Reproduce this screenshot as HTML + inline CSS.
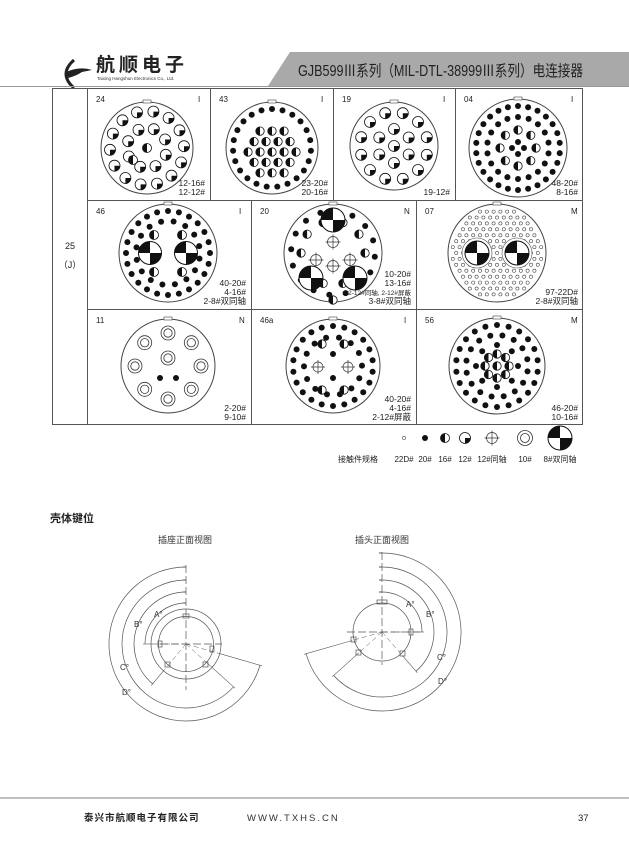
<!DOCTYPE html>
<html><head><meta charset="utf-8">
<style>
*{margin:0;padding:0}
body{width:629px;height:859px;background:#fff;overflow:hidden;position:relative;font-family:"Liberation Sans","Noto Sans CJK SC",sans-serif}
svg{position:absolute;left:0;top:0}
</style></head><body>
<svg id="s" width="629" height="859" viewBox="0 0 629 859" xmlns="http://www.w3.org/2000/svg" font-family="Liberation Sans, Noto Sans CJK SC, sans-serif">
<g>
<path d="M74 60 q-16 14 0 28" fill="none" stroke="#222" stroke-width="3"/>
<path d="M66 72 q14 -6 26 -2 l-10 2 q-6 4 -14 6 z" fill="#222"/>
<text x="96" y="71" font-size="19" font-weight="bold" fill="#222" letter-spacing="4">航顺电子</text>
<text x="97" y="80" font-size="4.5" fill="#333">Taixing Hangshun Electronics Co., Ltd.</text>
<path d="M290 52 L629 52 L629 86 L268 86 Z" fill="#a9a9a9"/>
<line x1="0" y1="86.5" x2="629" y2="86.5" stroke="#999" stroke-width="1"/>
<text x="298" y="76" font-size="15.5" fill="#222" textLength="285" lengthAdjust="spacingAndGlyphs">GJB599Ⅲ系列（MIL-DTL-38999Ⅲ系列）电连接器</text>
</g>
<g stroke="#555" stroke-width="1" fill="none">
<rect x="52.5" y="88.5" width="530" height="336"/>
<line x1="87.5" y1="88" x2="87.5" y2="425"/>
<line x1="87" y1="200.5" x2="583" y2="200.5"/>
<line x1="87" y1="309.5" x2="583" y2="309.5"/>
<line x1="210.5" y1="88" x2="210.5" y2="200"/>
<line x1="333.5" y1="88" x2="333.5" y2="200"/>
<line x1="455.5" y1="88" x2="455.5" y2="200"/>
<line x1="251.5" y1="200" x2="251.5" y2="425"/>
<line x1="416.5" y1="200" x2="416.5" y2="425"/>
</g>
<text x="70" y="249" font-size="9" text-anchor="middle" fill="#222">25</text>
<text x="70" y="268" font-size="9" text-anchor="middle" fill="#222">（J）</text>
<g id="conn"></g>
<g id="leg"></g>
<g font-size="8" fill="#222" text-anchor="middle">
<text x="358" y="462">接触件规格</text>
<text x="404" y="462">22D#</text>
<text x="425" y="462">20#</text>
<text x="445" y="462">16#</text>
<text x="465" y="462">12#</text>
<text x="492" y="462">12#同轴</text>
<text x="525" y="462">10#</text>
<text x="560" y="462">8#双同轴</text>
</g>
<text x="50" y="522" font-size="11" font-weight="bold" fill="#222">壳体键位</text>
<text x="185" y="543" font-size="9" fill="#333" text-anchor="middle">插座正面视图</text>
<text x="382" y="543" font-size="9" fill="#333" text-anchor="middle">插头正面视图</text>
<g id="keys" fill="none" stroke="#555" stroke-width="0.7"></g>
<g font-size="8" fill="#333">
<text x="154" y="617">A°</text><text x="134" y="627">B°</text><text x="120" y="670">C°</text><text x="122" y="695">D°</text>
<text x="406" y="607">A°</text><text x="426" y="617">B°</text><text x="437" y="660">C°</text><text x="438" y="684">D°</text>
</g>
<line x1="0" y1="798" x2="629" y2="798" stroke="#aaa" stroke-width="1.5"/>
<text x="84" y="821" font-size="9.5" fill="#222" font-weight="bold" letter-spacing="1">泰兴市航顺电子有限公司</text>
<text x="247" y="821" font-size="9.5" fill="#333" letter-spacing="2">WWW.TXHS.CN</text>
<text x="578" y="821" font-size="9.5" fill="#222">37</text>
</svg>
<script>
function c20(x,y){return '<circle cx="'+x+'" cy="'+y+'" r="3" fill="#111"/>';}
function c22(x,y){return '<circle cx="'+x+'" cy="'+y+'" r="1.6" fill="none" stroke="#444" stroke-width="0.6"/>';}
function c16(x,y,r){r=r||4.5;return '<circle cx="'+x+'" cy="'+y+'" r="'+r+'" fill="#fff" stroke="#111" stroke-width="0.8"/><path d="M'+x+' '+(y-r)+' A'+r+' '+r+' 0 0 0 '+x+' '+(y+r)+'Z" fill="#111"/>';}
function c12(x,y,r){r=r||5.5;return '<circle cx="'+x+'" cy="'+y+'" r="'+r+'" fill="#fff" stroke="#111" stroke-width="0.8"/><path d="M'+x+' '+y+' L'+(x+r)+' '+y+' A'+r+' '+r+' 0 0 1 '+x+' '+(y+r)+'Z" fill="#111"/>';}
function cx12(x,y,r){r=r||6;return '<circle cx="'+x+'" cy="'+y+'" r="'+r+'" fill="#fff" stroke="#333" stroke-width="0.7"/><path d="M'+(x-r-2)+' '+y+'H'+(x+r+2)+'M'+x+' '+(y-r-2)+'V'+(y+r+2)+'" stroke="#333" stroke-width="0.7"/>';}
function c10(x,y,r){r=r||7;return '<circle cx="'+x+'" cy="'+y+'" r="'+r+'" fill="#fff" stroke="#333" stroke-width="0.8"/><circle cx="'+x+'" cy="'+y+'" r="'+(r*0.6)+'" fill="none" stroke="#333" stroke-width="0.8"/>';}
function c8(x,y,r){r=r||12;return '<circle cx="'+x+'" cy="'+y+'" r="'+r+'" fill="#fff" stroke="#111" stroke-width="1"/><path d="M'+x+' '+y+'L'+x+' '+(y-r)+'A'+r+' '+r+' 0 0 0 '+(x-r)+' '+y+'Z M'+x+' '+y+'L'+x+' '+(y+r)+'A'+r+' '+r+' 0 0 0 '+(x+r)+' '+y+'Z" fill="#111"/>';}
function shell(x,y,R){return '<circle cx="'+x+'" cy="'+y+'" r="'+R+'" fill="#fff" stroke="#444" stroke-width="1"/><rect x="'+(x-4)+'" y="'+(y-R-2)+'" width="8" height="3" fill="#fff" stroke="#444" stroke-width="0.6"/>';}
function ring(cx,cy,r,n,f,a0){var s='';a0=a0||0;for(var i=0;i<n;i++){var a=(a0+i*360/n)*Math.PI/180;s+=f(+(cx+r*Math.sin(a)).toFixed(1),+(cy-r*Math.cos(a)).toFixed(1));}return s;}
function grid(cx,cy,R,sp,f,skip){var s='';for(var j=-10;j<=10;j++)for(var i=-10;i<=10;i++){var x=cx+i*sp+(j%2?sp/2:0),y=cy+j*sp*0.87;var d=Math.hypot(x-cx,y-cy);if(d<=R&&!(skip&&skip(x,y)))s+=f(+x.toFixed(1),+y.toFixed(1));}return s;}
function labels(x0,y0,x1,y1,num,let,lines){var s='<text x="'+(x0+8)+'" y="'+(y0+13)+'" font-size="8" fill="#222">'+num+'</text><text x="'+(x1-12)+'" y="'+(y0+13)+'" font-size="8" fill="#222">'+let+'</text>';for(var i=0;i<lines.length;i++){s+='<text x="'+(x1-5)+'" y="'+(y1-5-(lines.length-1-i)*9)+'" font-size="'+(lines[i].length>10?6.5:8.5)+'" fill="#222" text-anchor="end">'+lines[i]+'</text>';}return s;}
var s='';
s+=shell(147,148,46)+ring(147,148,37,14,c12,10)+ring(147,148,20,8,c12,20)+c16(147,148)+c16(133,160);
s+=labels(88,89,210,200,'24','I',['12-16#','12-12#']);
s+=shell(272,148,46)+ring(272,148,39,23,c20)+grid(272,152,27,12,function(x,y){return c16(x,y,4.2);});
s+=labels(211,89,333,200,'43','I',['23-20#','20-16#']);
s+=shell(394,146,44)+ring(394,146,34,12,c12,15)+ring(394,146,17,6,c12)+c12(394,146);
s+=labels(334,89,455,200,'19','I',['19-12#']);
s+=shell(518,148,49)+ring(518,148,42,26,c20)+ring(518,148,31,18,c20)+ring(518,148,18,8,function(x,y){return c16(x,y,4.2);})+ring(518,148,6,4,c20);
s+=labels(456,89,583,200,'04','I',['48-20#','8-16#']);
s+=shell(168,253,49)+ring(168,253,42,24,c20)+ring(168,253,32,16,c20,10)+c16(154,235)+c16(182,235)+c16(154,272)+c16(182,272)+c8(150,253,11.5)+c8(186,253,11.5);
s+=labels(88,201,251,309,'46','I',['40-20#','4-16#','2-8#双同轴']);
s+=shell(333,253,49)+ring(333,253,42,16,c20,5)+ring(333,253,32,10,function(x,y){return c16(x,y,4.2);},18)+c8(333,220,12)+c8(311,278,12)+c8(355,278,12)+cx12(333,242,5.5)+cx12(316,260,5.5)+cx12(350,260,5.5)+cx12(333,266,5.5)+c16(333,300,4.2);
s+=labels(252,201,416,309,'20','N',['10-20#','13-16#','2-12#同轴, 2-12#屏蔽','3-8#双同轴']);
s+=shell(497,253,49)+grid(497,253,45,6.8,c22)+'<circle cx="477" cy="253" r="15" fill="#fff" stroke="#555" stroke-width="0.6"/><circle cx="517" cy="253" r="15" fill="#fff" stroke="#555" stroke-width="0.6"/>'+c8(477,253,12)+c8(517,253,12);
s+=labels(417,201,583,309,'07','M',['97-22D#','2-8#双同轴']);
s+=shell(168,366,47)+ring(168,366,33,8,c10)+c10(168,358)+c20(160,378)+c20(176,378);
s+=labels(88,310,251,425,'11','N',['2-20#','9-10#']);
s+=shell(333,366,47)+ring(333,366,40,22,c20)+ring(333,366,29,14,c20,12)+c16(322,344,4.2)+c16(344,344,4.2)+c16(322,390,4.2)+c16(344,390,4.2)+cx12(318,367,5)+cx12(348,367,5)+ring(333,366,12,2,c20,0);
s+=labels(252,310,416,425,'46a','I',['40-20#','4-16#','2-12#屏蔽']);
s+=shell(497,366,48)+ring(497,366,41,22,c20)+ring(497,366,31,16,c20,10)+ring(497,366,21,8,c20)+ring(497,366,12,8,function(x,y){return c16(x,y,4.2);})+c16(497,366,4.2)+c16(485,366,4.2);
s+=labels(417,310,583,425,'56','M',['46-20#','10-16#']);
document.getElementById('conn').innerHTML=s;
document.getElementById('leg').innerHTML=c22(404,438)+c20(425,438)+c16(445,438,4.5)+c12(465,438,5.5)+cx12(492,438,5.5)+c10(525,438,7.5)+c8(560,438,12);
function pt(cx,cy,r,a){a=a*Math.PI/180;return [(cx+r*Math.sin(a)).toFixed(1),(cy-r*Math.cos(a)).toFixed(1)];}
function arc(cx,cy,r,a,cw,r0){var ang=cw?a:360-a;var e=pt(cx,cy,r+2,ang),e2=pt(cx,cy,r,ang),b=pt(cx,cy,r0,ang);return '<path d="M'+cx+' '+(cy-r)+' A'+r+' '+r+' 0 '+(a>180?1:0)+' '+(cw?1:0)+' '+e2[0]+' '+e2[1]+'"/><path d="M'+b[0]+' '+b[1]+' L'+e[0]+' '+e[1]+'" stroke-width="0.6"/><path d="M'+cx+' '+cy+' L'+b[0]+' '+b[1]+'" stroke-width="0.5" stroke-dasharray="5 3"/><line x1="'+cx+'" y1="'+(cy-r)+'" x2="'+(cx-3)+'" y2="'+(cy-r)+'" stroke-width="1"/>';}
var k='';
k+='<circle cx="186" cy="644" r="35"/><circle cx="186" cy="644" r="27.5"/>';
k+='<line x1="186" y1="565" x2="186" y2="690" stroke-dasharray="8 3"/><line x1="160" y1="644" x2="222" y2="644" stroke-dasharray="8 3"/>';
k+='<rect x="183" y="614" width="6" height="4"/><rect x="158" y="641" width="4" height="6"/><rect x="165" y="662" width="5" height="5"/><rect x="203" y="662" width="5" height="5"/><rect x="210" y="646" width="4" height="6"/>';
k+=arc(186,644,41,90,false,28)+arc(186,644,52,140,false,35)+arc(186,644,64,228,false,28)+arc(186,644,77,254,false,35);
k+='<circle cx="382" cy="632" r="29"/><rect x="377" y="600" width="10" height="4"/>';
k+='<line x1="382" y1="552" x2="382" y2="665" stroke-dasharray="8 3"/><line x1="347" y1="632" x2="420" y2="632" stroke-dasharray="8 3"/>';
k+='<rect x="409" y="629" width="4" height="6"/><rect x="351" y="637" width="5" height="5"/><rect x="356" y="650" width="5" height="5"/><rect x="400" y="651" width="5" height="5"/>';
k+=arc(382,632,40,90,true,31)+arc(382,632,52,139,true,31)+arc(382,632,65,228,true,31)+arc(382,632,79,254,true,31);
document.getElementById('keys').innerHTML=k;
</script>
</body></html>
